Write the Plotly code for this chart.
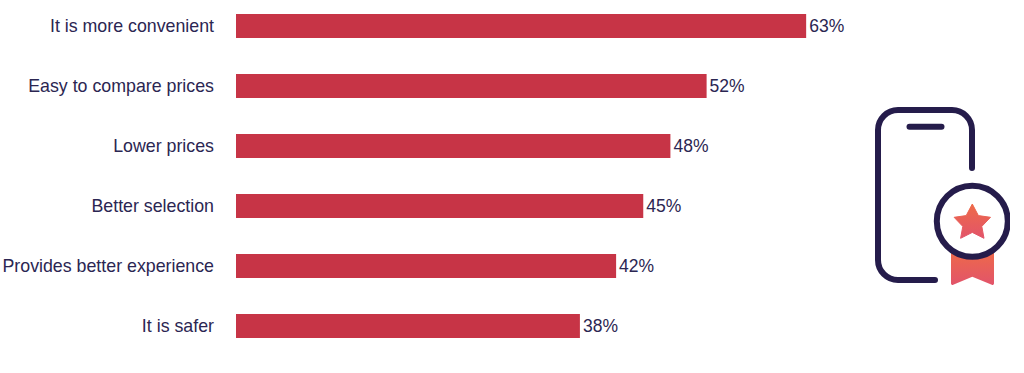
import base64
import plotly.graph_objects as go

categories = ["It is more convenient", "Easy to compare prices", "Lower prices",
              "Better selection", "Provides better experience", "It is safer"]
values = [63, 52, 48, 45, 42, 38]
value_labels = ["63%", "52%", "48%", "45%", "42%", "38%"]

W, H = 1024, 373
LEFT = 236
INK = "#2b2652"
BAR = "#c73446"

icon_svg = """<svg xmlns="http://www.w3.org/2000/svg" width="150" height="200" viewBox="860 95 150 200">
<defs><linearGradient id="g" x1="0" y1="0" x2="0" y2="1">
<stop offset="0" stop-color="#ee6a48"/><stop offset="1" stop-color="#e2546a"/></linearGradient></defs>
<path d="M972 168V130a20 20 0 0 0-20-20H898a20 20 0 0 0-20 20V260a20 20 0 0 0 20 20H935" fill="none" stroke="#251c4b" stroke-width="6" stroke-linecap="round"/>
<path d="M909.5 126.7H941.5" fill="none" stroke="#251c4b" stroke-width="6" stroke-linecap="round"/>
<path d="M951 250H994V283.5a1.5 1.5 0 0 1-2.2 1.2L972.3 276.7L953.2 284.7a1.5 1.5 0 0 1-2.2-1.2Z" fill="url(#g)"/>
<circle cx="972.3" cy="221.3" r="35.5" fill="#fff" stroke="#251c4b" stroke-width="6"/>
<path d="M972.3 204L978.4 215.6L990.5 217.3L981.8 226.4L984 238.3L972.3 232.4L960.6 238.3L962.8 226.4L954.1 217.3L966.2 215.6Z" fill="url(#g)" stroke="url(#g)" stroke-width="1" stroke-linejoin="round"/>
</svg>"""
icon_src = "data:image/svg+xml;base64," + base64.b64encode(icon_svg.encode()).decode()

fig = go.Figure(go.Bar(
    x=values, y=categories, orientation="h",
    marker=dict(color=BAR, line=dict(width=0)),
    text=value_labels, textposition="outside", cliponaxis=False,
    textfont=dict(family="Liberation Sans", size=17.5, color=INK),
    hoverinfo="skip",
))
fig.update_layout(
    width=W, height=H, autosize=False,
    margin=dict(l=LEFT, r=0, t=0, b=0, pad=0),
    paper_bgcolor="white", plot_bgcolor="white",
    showlegend=False, bargap=0.6,
    font=dict(family="Liberation Sans", size=17.8, color=INK),
    xaxis=dict(range=[0, 87.07], visible=False, fixedrange=True),
    yaxis=dict(range=[5.783, -0.4333], autorange=False, showgrid=False, showline=False,
               zeroline=False, ticks="", ticklabelstandoff=21, fixedrange=True,
               tickfont=dict(family="Liberation Sans", size=17.8, color=INK)),
    images=[dict(source=icon_src, xref="paper", yref="paper",
                 x=(860 - LEFT) / (W - LEFT), y=1 - 95 / H,
                 sizex=150 / (W - LEFT), sizey=200 / H,
                 xanchor="left", yanchor="top", sizing="stretch", layer="above")],
)
fig.write_html("out.html", config={"displayModeBar": False},
               post_script="document.body.style.margin='0';document.documentElement.style.overflow='hidden';")
